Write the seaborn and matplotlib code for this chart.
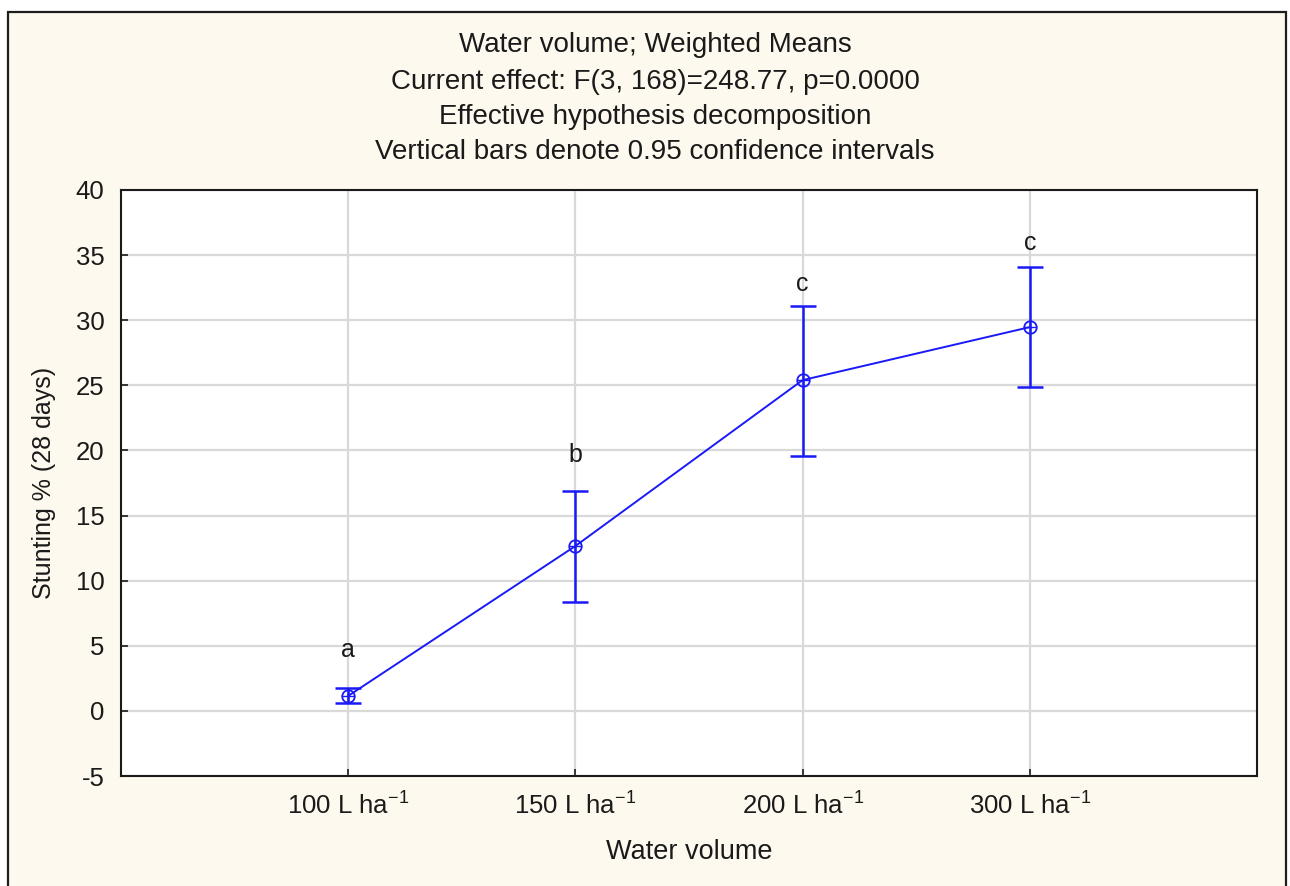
import matplotlib
matplotlib.use("Agg")
import matplotlib.pyplot as plt
import seaborn as sns
import pandas as pd
from matplotlib.patches import Rectangle

# ---- data ----
categories = ["100 L ha$^{-1}$", "150 L ha$^{-1}$", "200 L ha$^{-1}$", "300 L ha$^{-1}$"]
means = [1.15, 12.66, 25.4, 29.47]
ci_low = [0.6, 8.37, 19.57, 24.87]
ci_high = [1.77, 16.9, 31.1, 34.08]
letters = ["a", "b", "c", "c"]
letter_y = [4.7, 19.65, 32.8, 35.9]
y_ticks = [-5, 0, 5, 10, 15, 20, 25, 30, 35, 40]
title_lines = ["Water volume; Weighted Means",
               "Current effect: F(3, 168)=248.77, p=0.0000",
               "Effective hypothesis decomposition",
               "Vertical bars denote 0.95 confidence intervals"]

sns.set_theme(style="white")
plt.rcParams['font.family'] = ['Liberation Sans', 'DejaVu Sans']
plt.rcParams['mathtext.fontset'] = 'custom'
plt.rcParams['mathtext.rm'] = 'Liberation Sans'
plt.rcParams['mathtext.it'] = 'Liberation Sans'
plt.rcParams['mathtext.default'] = 'rm'

W, H = 1290, 886
fig = plt.figure(figsize=(W / 100, H / 100), dpi=100)
fig.patch.set_facecolor("white")
fig.patches.append(Rectangle((8 / W, -0.02), (1286 - 8) / W, 1 - 12 / H + 0.02,
                             transform=fig.transFigure, facecolor="#FEF9EE",
                             edgecolor="#1e1e1e", linewidth=1.6, zorder=-10))

ax = fig.add_axes([121 / W, 1 - 776 / H, (1257 - 121) / W, (776 - 190) / H])
ax.set_facecolor("white")

df = pd.DataFrame({"cat": categories, "mean": means})
blue = "#1a1af8"
sns.pointplot(data=df, x="cat", y="mean", color=blue, errorbar=None,
              markers="o", linestyles="-", ax=ax, zorder=3,
              markersize=0, linewidth=1.4)
xs = list(range(len(categories)))
ax.plot(xs, means, linestyle="none", marker="o", markersize=9,
        markerfacecolor="none", markeredgecolor=blue, markeredgewidth=1.3, zorder=4)
ax.plot(xs, means, linestyle="none", marker="+", markersize=9,
        markeredgecolor=blue, markeredgewidth=1.0, zorder=4)
yerr = [[m - l for m, l in zip(means, ci_low)], [h - m for m, h in zip(means, ci_high)]]
ax.errorbar(xs, means, yerr=yerr, fmt="none", ecolor=blue, elinewidth=1.8,
            capsize=9.4, capthick=1.8, zorder=3)

for x, t, y in zip(xs, letters, letter_y):
    ax.text(x, y, t, ha="center", va="center", fontsize=18, color="#1a1a1a")

ax.set_xlim(-1, 4)
ax.set_ylim(-5, 40)
ax.set_yticks(y_ticks)
ax.set_yticklabels([str(v) for v in y_ticks])
ax.grid(True, color="#d9d9d9", linewidth=1.6)
ax.set_axisbelow(True)
for s in ax.spines.values():
    s.set_color("#1a1a1a")
    s.set_linewidth(1.5)
ax.tick_params(axis="both", direction="in", length=5, width=1.2, color="#1a1a1a",
               labelsize=18.5, labelcolor="#1a1a1a")
ax.tick_params(axis="y", pad=12, left=True)
ax.tick_params(axis="x", pad=12, bottom=True)
ax.set_xlabel("Water volume", fontsize=19.5, color="#1a1a1a", labelpad=14)
ax.set_ylabel("Stunting % (28 days)", fontsize=18, color="#1a1a1a", labelpad=14)

for i, (line, ypix) in enumerate(zip(title_lines, [45, 82, 117, 152])):
    fig.text(655 / W, 1 - ypix / H, line, ha="center", va="center",
             fontsize=20, color="#1a1a1a")

fig.savefig("out.png", dpi=100)
